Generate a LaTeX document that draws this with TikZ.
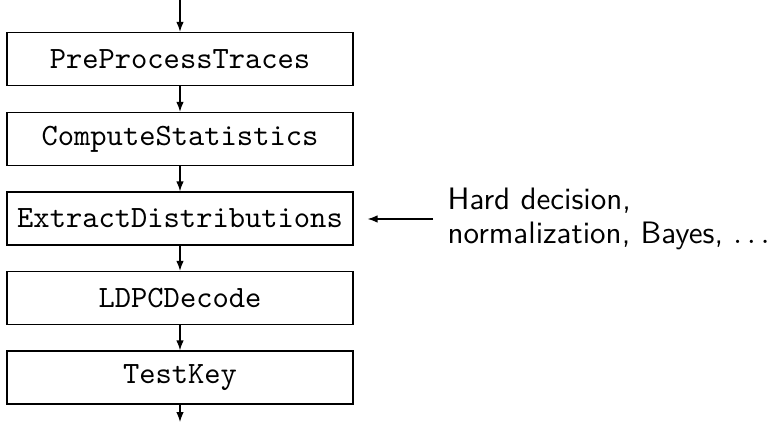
\documentclass[tikz,border=0pt]{standalone}
\usetikzlibrary{arrows.meta}
\begin{document}
\begin{tikzpicture}[x=0.3225pt,y=-0.3225pt,
  stepbox/.style={draw, minimum width=111.6pt, minimum height=17.1pt, inner sep=0pt, font=\ttfamily},
  arr/.style={-{Latex[length=3.2pt,width=2.4pt]}},
  notebox/.style={inner sep=4.5pt, align=left, font={\sffamily\fontsize{10}{11}\selectfont}}]
\useasboundingbox (0,0) rectangle (769,430);
\node[stepbox] (a) at (180,59) {PreProcessTraces};
\node[stepbox] (b) at (180,139) {ComputeStatistics};
\node[stepbox] (c) at (180,218.5) {ExtractDistributions};
\node[stepbox] (d) at (180,298) {LDPCDecode};
\node[stepbox] (e) at (180,377.5) {TestKey};
\coordinate (top) at (180,0);
\coordinate (bot) at (180,422);
\node[notebox, anchor=west] (note) at (433,219) {Hard decision,\\normalization, Bayes, $\ldots$};
\draw[arr] (top) -- (a);
\draw[arr] (a) -- (b);
\draw[arr] (b) -- (c);
\draw[arr] (c) -- (d);
\draw[arr] (d) -- (e);
\draw[arr] (e) -- (bot);
\draw[arr, shorten >=4.5pt] (note.west) -- (note.west -| c.east);
\end{tikzpicture}
\end{document}
